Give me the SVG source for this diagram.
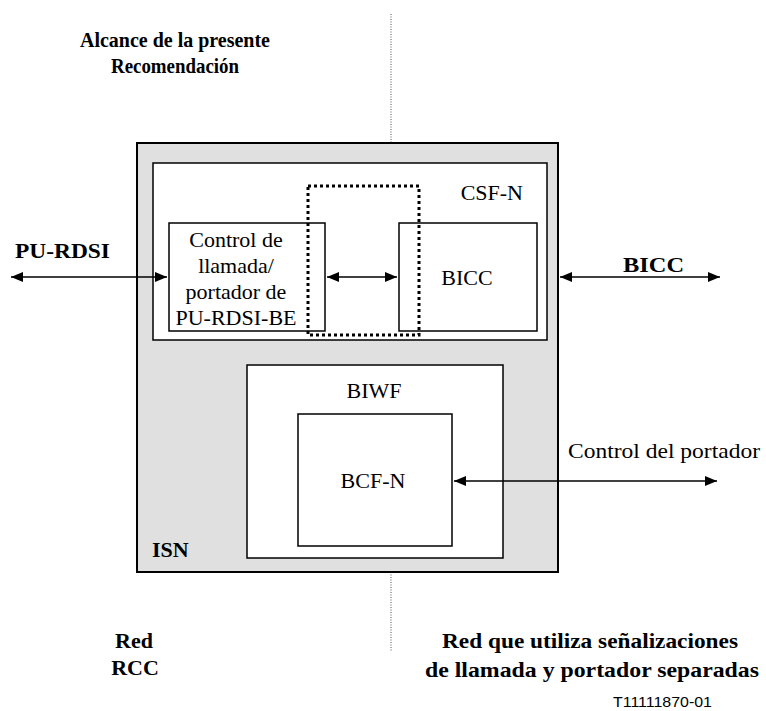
<svg xmlns="http://www.w3.org/2000/svg" width="766" height="711" viewBox="0 0 766 711" font-family="'Liberation Serif', 'Times New Roman', serif">
<defs>
<style>
text{font-family:'Liberation Serif','Times New Roman',serif;font-size:22px;fill:#000}
.b{font-weight:bold}
.box{fill:#fff;stroke:#000;stroke-width:1.5}
.ln{stroke:#000;stroke-width:1.3;fill:none}
.c{text-anchor:middle}
.id{font-family:'Liberation Sans',Arial,sans-serif;font-size:15px}
</style>
<marker id="ah" viewBox="0 0 12 10" refX="12" refY="5" markerWidth="12" markerHeight="10" markerUnits="userSpaceOnUse" orient="auto-start-reverse">
<path d="M0,0 L12,5 L0,10 z" fill="#000"/>
</marker>
</defs>
<rect width="766" height="711" fill="#fff"/>
<line x1="391" y1="14" x2="391" y2="143" stroke="#555" stroke-width="1" stroke-dasharray="1,1.5"/>
<line x1="391" y1="572" x2="391" y2="652" stroke="#555" stroke-width="1" stroke-dasharray="1,1.5"/>
<g id="isn">
<rect x="137" y="143" width="421" height="429" fill="#e0e0e0" stroke="#000" stroke-width="2"/>
<text x="152" y="557" class="b">ISN</text>
</g>
<g id="csfn">
<rect x="153" y="163" width="394" height="177" class="box"/>
<text x="523" y="200" text-anchor="end">CSF-N</text>
</g>
<g id="control">
<rect x="169" y="223" width="156" height="108" class="box"/>
<text x="236" y="247" class="c">Control de</text>
<text x="236" y="273" class="c">llamada/</text>
<text x="236" y="299" class="c">portador de</text>
<text x="236" y="325" class="c">PU-RDSI-BE</text>
</g>
<g id="bicc">
<rect x="399" y="223" width="138" height="108" class="box"/>
<text x="467" y="285" class="c">BICC</text>
</g>
<g id="scope">
<rect x="308" y="186" width="111" height="149" fill="none" stroke="#000" stroke-width="3" stroke-dasharray="3,3"/>
</g>
<g id="biwf">
<rect x="247" y="365" width="256" height="193" class="box"/>
<text x="374" y="398" class="c">BIWF</text>
</g>
<g id="bcfn">
<rect x="298" y="414" width="154" height="132" class="box"/>
<text x="373" y="488" class="c">BCF-N</text>
</g>
<g id="connectors">
<line x1="11" y1="277" x2="167" y2="277" class="ln" marker-start="url(#ah)" marker-end="url(#ah)"/>
<line x1="327" y1="277" x2="397" y2="277" class="ln" marker-start="url(#ah)" marker-end="url(#ah)"/>
<line x1="560" y1="277" x2="720" y2="277" class="ln" marker-start="url(#ah)" marker-end="url(#ah)"/>
<line x1="454" y1="481" x2="717" y2="481" class="ln" marker-start="url(#ah)" marker-end="url(#ah)"/>
</g>
<g id="labels">
<text x="15" y="258" class="b" textLength="95" lengthAdjust="spacingAndGlyphs">PU-RDSI</text>
<text x="623" y="272" class="b" textLength="61" lengthAdjust="spacingAndGlyphs">BICC</text>
<text x="568" y="458" textLength="192" lengthAdjust="spacingAndGlyphs">Control del portador</text>
<text x="175" y="47" class="b c" textLength="190" lengthAdjust="spacingAndGlyphs">Alcance de la presente</text>
<text x="175" y="73" class="b c" textLength="128" lengthAdjust="spacingAndGlyphs">Recomendación</text>
<text x="134" y="648" class="b c">Red</text>
<text x="135" y="675" class="b c">RCC</text>
<text x="590" y="648" class="b c" textLength="296" lengthAdjust="spacingAndGlyphs">Red que utiliza señalizaciones</text>
<text x="592" y="677" class="b c" textLength="334" lengthAdjust="spacingAndGlyphs">de llamada y portador separadas</text>
<text x="712" y="707" class="id" text-anchor="end" textLength="99" lengthAdjust="spacingAndGlyphs">T11111870-01</text>
</g>
</svg>
